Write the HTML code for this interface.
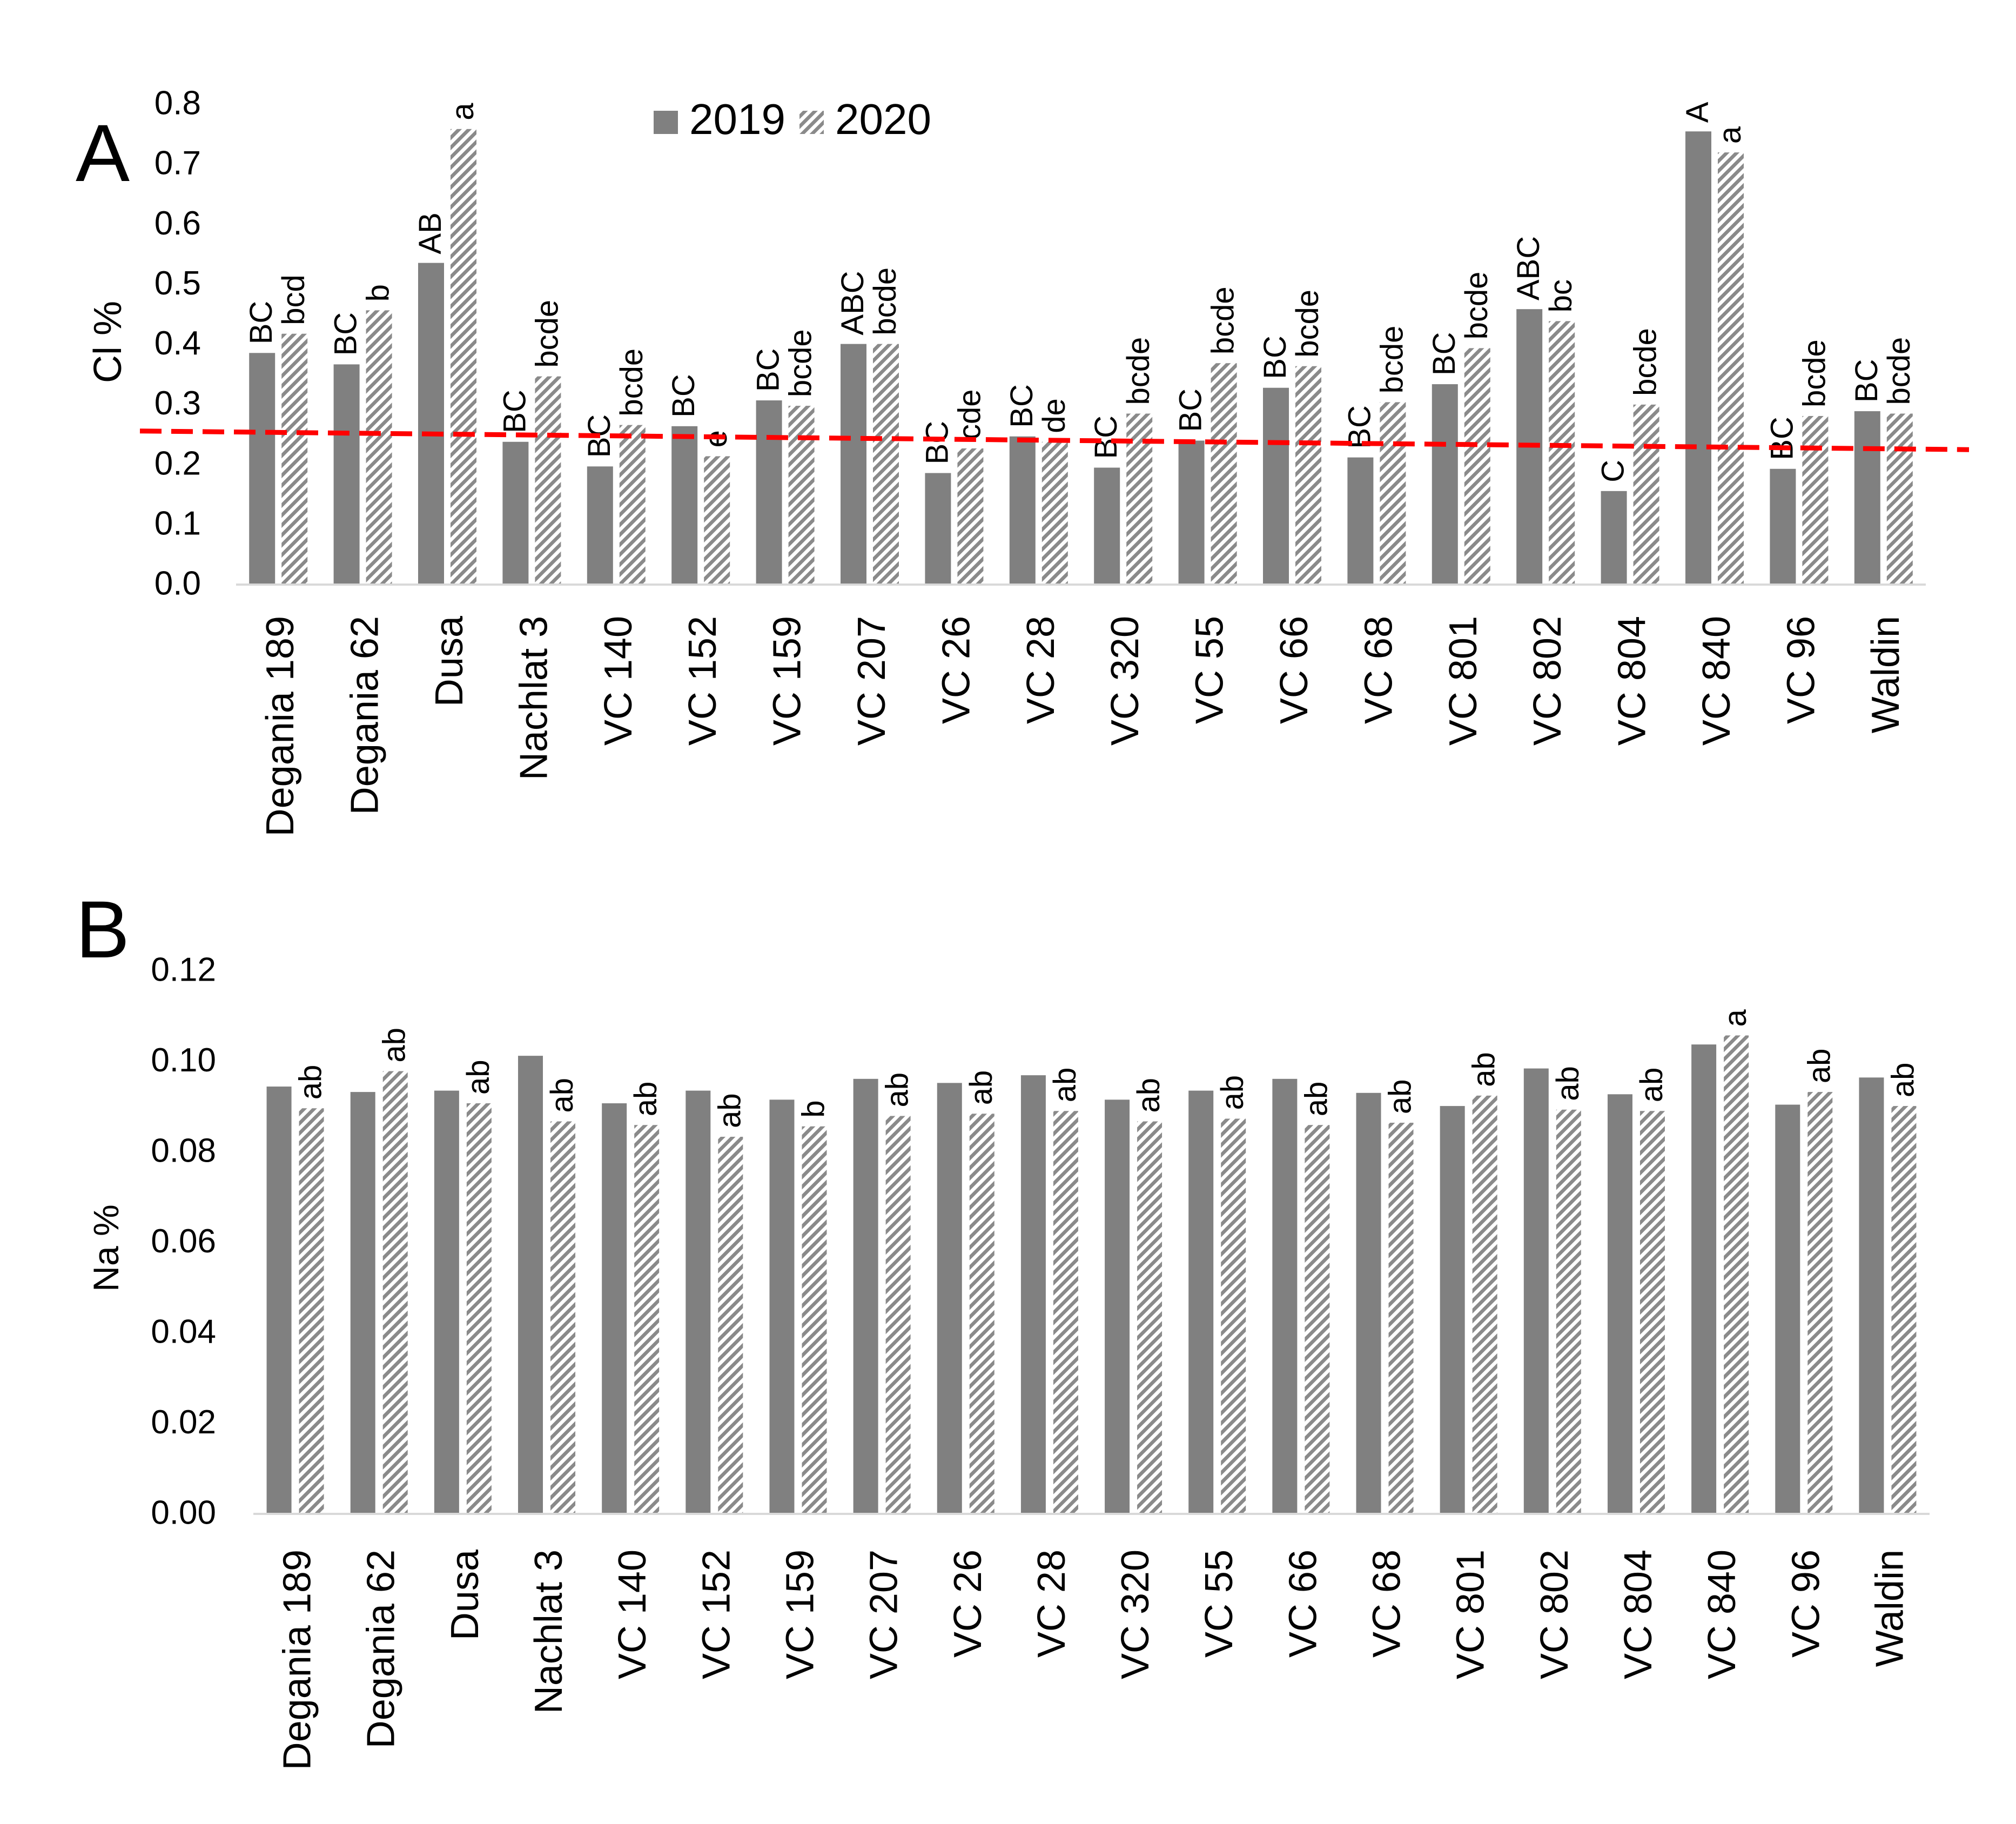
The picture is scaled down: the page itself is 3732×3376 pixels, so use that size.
<!DOCTYPE html>
<html><head><meta charset="utf-8"><style>
html,body{margin:0;padding:0;background:#fff;}
svg{display:block;font-family:"Liberation Sans",sans-serif;}
</style></head><body>
<svg id="chart" width="3732" height="3376" viewBox="0 0 3732 3376" xmlns="http://www.w3.org/2000/svg">
<defs>
<pattern id="hatch" patternUnits="userSpaceOnUse" width="13" height="13" patternTransform="rotate(45)">
<rect width="13" height="13" fill="#fff"/>
<rect width="6.5" height="13" fill="#8a8a8a"/>
</pattern>
</defs>
<g id="root"></g>
</svg>
<script>
const categories = ["Degania 189","Degania 62","Dusa","Nachlat 3","VC 140","VC 152","VC 159","VC 207","VC 26","VC 28","VC 320","VC 55","VC 66","VC 68","VC 801","VC 802","VC 804","VC 840","VC 96","Waldin"];
const cl2019 = [0.384,0.365,0.534,0.236,0.195,0.262,0.305,0.399,0.184,0.245,0.193,0.238,0.326,0.210,0.332,0.457,0.154,0.753,0.191,0.287];
const cl2020 = [0.416,0.455,0.757,0.345,0.264,0.212,0.296,0.399,0.225,0.236,0.283,0.367,0.362,0.302,0.392,0.437,0.298,0.718,0.279,0.283];
const clLetters2019 = ["BC","BC","AB","BC","BC","BC","BC","ABC","BC","BC","BC","BC","BC","BC","BC","ABC","C","A","BC","BC"];
const clLetters2020 = ["bcd","b","a","bcde","bcde","e","bcde","bcde","cde","de","bcde","bcde","bcde","bcde","bcde","bc","bcde","a","bcde","bcde"];
const clTicks = ["0.0","0.1","0.2","0.3","0.4","0.5","0.6","0.7","0.8"];
const thresholdLine = [0.254, 0.223];
const na2019 = [0.0942,0.0930,0.0933,0.1010,0.0905,0.0933,0.0913,0.0959,0.0950,0.0967,0.0913,0.0933,0.0959,0.0928,0.0899,0.0982,0.0925,0.1035,0.0902,0.0962];
const na2020 = [0.0894,0.0976,0.0905,0.0865,0.0857,0.0831,0.0854,0.0877,0.0882,0.0888,0.0865,0.0871,0.0857,0.0862,0.0922,0.0891,0.0888,0.1055,0.0930,0.0899];
const naLetters2020 = ["ab","ab","ab","ab","ab","ab","b","ab","ab","ab","ab","ab","ab","ab","ab","ab","ab","a","ab","ab"];
const naTicks = ["0.00","0.02","0.04","0.06","0.08","0.10","0.12"];

const NS="http://www.w3.org/2000/svg";
const root=document.getElementById('root');
function mk(tag,attrs,parent,txt){const e=document.createElementNS(NS,tag);for(const k in attrs)e.setAttribute(k,attrs[k]);if(txt!==undefined)e.textContent=txt;(parent||root).appendChild(e);return e;}

function drawPanel(o){
  const g=mk('g',{});
  
  
  const y=v=>o.y0-(v-o.min)/(o.max-o.min)*(o.y0-o.y1);
  const pitch=(o.x1-o.x0)/categories.length;
  const cx=i=>o.x0+pitch*(i+0.5);
  o.ticks.forEach((t,i)=>{
    const v=o.min+(o.max-o.min)*i/(o.ticks.length-1);
    const e=mk('text',{x:o.tickX,y:y(v),'text-anchor':'end','dominant-baseline':'central','font-size':o.tickSize,fill:'#000'},g,t);
    
    
  });
  categories.forEach((c,i)=>{
    const xa=cx(i)-o.off-o.bw/2, xb=cx(i)+o.off-o.bw/2;
    const r1=mk('rect',{x:xa,y:y(o.s1[i]),width:o.bw,height:o.y0-y(o.s1[i]),fill:'#808080'},g);
    
    
    const r2=mk('rect',{x:xb,y:y(o.s2[i]),width:o.bw,height:o.y0-y(o.s2[i]),fill:'url(#hatch)'},g);
    
    
    if(o.l1){
      const px=cx(i)-o.off+18, py=y(o.s1[i])-16;
      const t=mk('text',{x:px,y:py,transform:`rotate(-90 ${px} ${py})`,'font-size':o.letSize,fill:'#000'},g,o.l1[i]);
      
      
    }
    if(o.l2){
      const px=cx(i)+o.off+18, py=y(o.s2[i])-16;
      const t=mk('text',{x:px,y:py,transform:`rotate(-90 ${px} ${py})`,'font-size':o.letSize,fill:'#000'},g,o.l2[i]);
      
      
    }
    const lx=cx(i)+4, ly=o.catY;
    const ct=mk('text',{x:lx,y:ly,transform:`rotate(-90 ${lx} ${ly})`,'text-anchor':'end','dominant-baseline':'central','font-size':o.catSize,fill:'#000'},g,c);
    
    
  });
  const ax=mk('line',{x1:o.x0,x2:o.x1,y1:o.y0+2,y2:o.y0+2,stroke:'#d9d9d9','stroke-width':4},g);
  
  
  const tt=mk('text',{x:o.titleX,y:o.titleY,transform:`rotate(-90 ${o.titleX} ${o.titleY})`,'text-anchor':'middle','dominant-baseline':'central','font-size':o.titleSize,fill:'#000'},g,o.title);
  
  
  const pl=mk('text',{x:o.panelX,y:o.panelY,'font-size':150,fill:'#000'},g,o.panel);
  
  
  return y;
}

const yA=drawPanel({name:'chart-a-cl',x0:437,x1:3565,y0:1080,y1:191,min:0,max:0.8,ticks:clTicks,tickX:372,tickSize:62,
  s1:cl2019,s2:cl2020,l1:clLetters2019,l2:clLetters2020,bw:48,off:30,letSize:58,catY:1140,catSize:72,
  title:'Cl %',titleX:200,titleY:633,titleSize:72,panel:'A',panelX:140,panelY:335});
const dl=mk('line',{x1:259,x2:3645,y1:yA(thresholdLine[0]),y2:yA(thresholdLine[1]),stroke:'#ff0000','stroke-width':9,'stroke-dasharray':'40 18'});



drawPanel({name:'chart-b-na',x0:469,x1:3572,y0:2800,y1:1795,min:0,max:0.12,ticks:naTicks,tickX:400,tickSize:62,
  s1:na2019,s2:na2020,l1:null,l2:naLetters2020,bw:46,off:30,letSize:58,catY:2868,catSize:72,
  title:'Na %',titleX:196,titleY:2310,titleSize:66,panel:'B',panelX:140,panelY:1772});

const lg=mk('g',{});


const ls1=mk('rect',{x:1210,y:205,width:45,height:43,fill:'#808080'},lg);


const lt1=mk('text',{x:1276,y:248,'font-size':80,fill:'#000'},lg,'2019');


const ls2=mk('rect',{x:1480,y:205,width:45,height:43,fill:'url(#hatch)'},lg);


const lt2=mk('text',{x:1546,y:248,'font-size':80,fill:'#000'},lg,'2020');


</script>
</body></html>
